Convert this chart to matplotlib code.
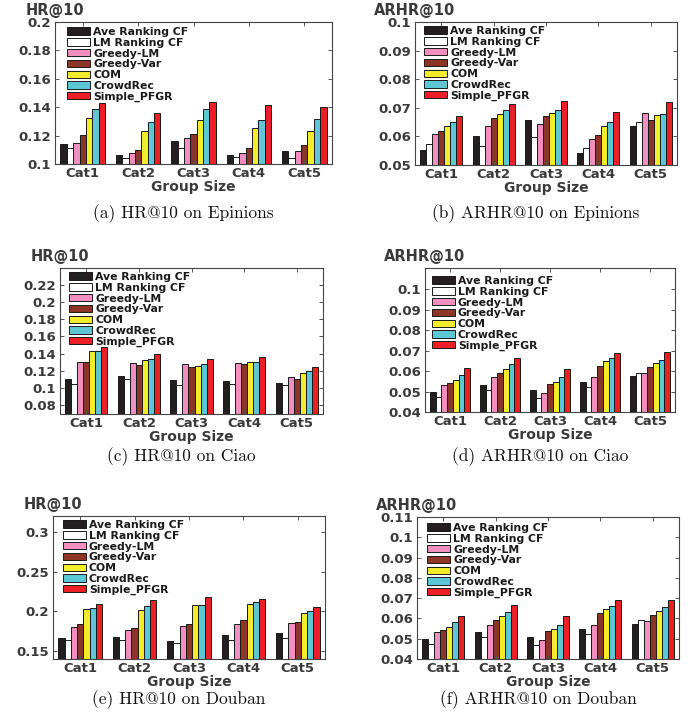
import numpy as np
import matplotlib.pyplot as plt
from matplotlib.ticker import FormatStrFormatter

methods = ['Ave Ranking CF', 'LM Ranking CF', 'Greedy-LM', 'Greedy-Var',
           'COM', 'CrowdRec', 'Simple_PFGR']
colors = ['#231f20', '#ffffff', '#f28fbf', '#8c3526', '#f3ec2c', '#5cc6d4', '#ec1f27']
cats = ['Cat1', 'Cat2', 'Cat3', 'Cat4', 'Cat5']

# one row per method, one column per group size category
hr_epinions = [
    [0.1141, 0.1066, 0.1162, 0.1064, 0.1089],
    [0.1113, 0.1040, 0.1115, 0.1050, 0.1045],
    [0.1148, 0.1078, 0.1186, 0.1078, 0.1094],
    [0.1207, 0.1101, 0.1212, 0.1113, 0.1136],
    [0.1325, 0.1235, 0.1313, 0.1252, 0.1231],
    [0.1388, 0.1299, 0.1388, 0.1308, 0.1320],
    [0.1428, 0.1362, 0.1438, 0.1419, 0.1398],
]
arhr_epinions = [
    [0.0552, 0.0603, 0.0656, 0.0543, 0.0636],
    [0.0574, 0.0565, 0.0598, 0.0560, 0.0652],
    [0.0607, 0.0638, 0.0644, 0.0590, 0.0683],
    [0.0619, 0.0666, 0.0671, 0.0606, 0.0656],
    [0.0635, 0.0679, 0.0683, 0.0635, 0.0676],
    [0.0649, 0.0694, 0.0693, 0.0649, 0.0680],
    [0.0672, 0.0715, 0.0723, 0.0687, 0.0719],
]
hr_ciao = [
    [0.1104, 0.1143, 0.1089, 0.1081, 0.1058],
    [0.1046, 0.1104, 0.1035, 0.1046, 0.1031],
    [0.1306, 0.1290, 0.1282, 0.1294, 0.1132],
    [0.1298, 0.1267, 0.1248, 0.1279, 0.1108],
    [0.1430, 0.1325, 0.1255, 0.1302, 0.1174],
    [0.1437, 0.1344, 0.1279, 0.1302, 0.1197],
    [0.1480, 0.1398, 0.1337, 0.1360, 0.1244],
]
arhr_ciao = [
    [0.0497, 0.0531, 0.0510, 0.0549, 0.0574],
    [0.0472, 0.0507, 0.0467, 0.0521, 0.0592],
    [0.0534, 0.0570, 0.0493, 0.0570, 0.0589],
    [0.0543, 0.0592, 0.0538, 0.0625, 0.0618],
    [0.0559, 0.0610, 0.0548, 0.0648, 0.0638],
    [0.0580, 0.0634, 0.0570, 0.0662, 0.0657],
    [0.0613, 0.0666, 0.0610, 0.0689, 0.0692],
]
hr_douban = [
    [0.1667, 0.1679, 0.1625, 0.1704, 0.1721],
    [0.1637, 0.1637, 0.1604, 0.1642, 0.1667],
    [0.1804, 0.1767, 0.1813, 0.1846, 0.1854],
    [0.1846, 0.1796, 0.1846, 0.1892, 0.1867],
    [0.2029, 0.2017, 0.2075, 0.2092, 0.1979],
    [0.2046, 0.2067, 0.2083, 0.2121, 0.2008],
    [0.2096, 0.2142, 0.2179, 0.2158, 0.2058],
]
arhr_douban = [
    [0.0497, 0.0531, 0.0510, 0.0549, 0.0574],
    [0.0472, 0.0507, 0.0467, 0.0521, 0.0592],
    [0.0534, 0.0570, 0.0493, 0.0570, 0.0589],
    [0.0543, 0.0592, 0.0538, 0.0625, 0.0618],
    [0.0559, 0.0610, 0.0548, 0.0648, 0.0638],
    [0.0580, 0.0634, 0.0570, 0.0662, 0.0657],
    [0.0613, 0.0666, 0.0610, 0.0689, 0.0692],
]

W, H = 694, 720
text_col = '#3a3a3a'
sans = 'DejaVu Sans'
serif = ['cmr10', 'DejaVu Serif']

# (data, metric, y-limits, y-ticks, axes box in px: left, top, right, bottom, legend offset px, caption)
panels = [
    (hr_epinions, 'HR@10', (0.1, 0.2), np.arange(0.1, 0.201, 0.02),
     (55, 22, 332, 164), (12, 5), '(a) HR@10 on Epinions'),
    (arhr_epinions, 'ARHR@10', (0.05, 0.1), np.arange(0.05, 0.101, 0.01),
     (415, 22, 677, 165), (9, 4), '(b) ARHR@10 on Epinions'),
    (hr_ciao, 'HR@10', (0.07, 0.2395), np.arange(0.08, 0.221, 0.02),
     (60, 268, 323, 414), (9, 4), '(c) HR@10 on Ciao'),
    (arhr_ciao, 'ARHR@10', (0.04, 0.1105), np.arange(0.04, 0.101, 0.01),
     (425, 268, 675, 412), (7, 8), '(d) ARHR@10 on Ciao'),
    (hr_douban, 'HR@10', (0.14, 0.32), np.arange(0.15, 0.301, 0.05),
     (53, 516, 325, 659), (10, 4), '(e) HR@10 on Douban'),
    (arhr_douban, 'ARHR@10', (0.04, 0.11), np.arange(0.04, 0.111, 0.01),
     (417, 517, 679, 659), (10, 6), '(f) ARHR@10 on Douban'),
]
caption_y = [214, 214, 457, 457, 700, 700]

fig = plt.figure(figsize=(W / 100, H / 100), dpi=100)

x = np.arange(1, len(cats) + 1)
bw = 0.115
for i, (vals, metric, ylim, yticks, box, loff, caption) in enumerate(panels):
    l, t, r, b = box
    ax = fig.add_axes([l / W, 1 - b / H, (r - l) / W, (b - t) / H])
    for k, m in enumerate(methods):
        ax.bar(x + (k - 3) * bw, vals[k], width=bw, color=colors[k],
               edgecolor='#1a1a1a', linewidth=0.7, label=m)
    ax.set_xlim(0.5, 5.5)
    ax.set_ylim(*ylim)
    ax.set_xticks(x)
    ax.set_xticklabels(cats)
    ax.set_yticks(yticks)
    ax.yaxis.set_major_formatter(FormatStrFormatter('%g'))
    ax.tick_params(direction='in', top=True, right=True, length=3, width=0.7,
                   color='#555555', labelcolor=text_col, pad=3)
    ax.tick_params(axis='x', pad=2)
    for lab in ax.get_yticklabels():
        lab.set_fontfamily(sans)
        lab.set_fontweight('bold')
        lab.set_fontsize(9.5)
    for lab in ax.get_xticklabels():
        lab.set_fontfamily(sans)
        lab.set_fontweight('bold')
        lab.set_fontsize(9.5)
    for s in ax.spines.values():
        s.set_color('#444444')
        s.set_linewidth(0.8)
    ax.set_xlabel('Group Size', fontfamily=sans, fontweight='bold', fontsize=10,
                  color=text_col, labelpad=0)
    ax.annotate(metric, xy=(0, 1), xycoords='axes fraction', xytext=(0, 3),
                textcoords='offset points', ha='center', va='bottom',
                fontfamily=sans, fontweight='bold', fontsize=10.5, color=text_col)
    ax_w = r - l
    ax_h = b - t
    leg = ax.legend(loc='upper left',
                    bbox_to_anchor=(loff[0] / ax_w, 1 - loff[1] / ax_h),
                    frameon=False, borderpad=0, borderaxespad=0,
                    handlelength=2.1, handleheight=0.68, handletextpad=0.3,
                    labelspacing=0.07,
                    prop={'family': sans, 'weight': 'bold', 'size': 7.8})
    for txt in leg.get_texts():
        txt.set_color('#1a1a1a')
    cx = (l + r) / 2 - 10
    fig.text(cx / W, 1 - caption_y[i] / H, caption, ha='center', va='center',
             fontfamily=serif, fontsize=12.5, color='#111111')

fig.savefig('out.png', dpi=100)
